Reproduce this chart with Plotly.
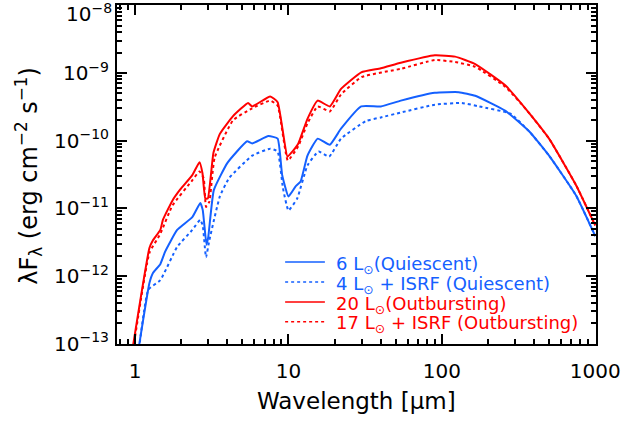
import plotly.graph_objects as go

# ---- data ----
wl_red = [0.95, 1.24, 1.31, 1.46, 1.52, 1.75, 1.97, 2.36, 2.63, 2.75, 2.87, 2.98, 3.24, 3.57, 4.35,
          5.45, 5.8, 7.6, 8.5, 9.85, 10.6, 11.6, 13.3, 15.5, 18.6, 22, 29.8, 40, 54, 90, 122,
          165, 260, 352, 500, 750, 1000]
f_red = [7e-14, 2.6e-12, 3.4e-12, 4.8e-12, 6.8e-12, 1.3e-11, 1.9e-11, 3.1e-11, 4.8e-11, 3.3e-11,
         1.4e-11, 1.4e-11, 6.6e-11, 1.26e-10, 2.3e-10, 3.6e-10, 3.2e-10, 4.5e-10, 3.7e-10, 5.8e-11,
         6.9e-11, 9.1e-11, 2.1e-10, 3.9e-10, 3.2e-10, 5.8e-10, 1.02e-9, 1.17e-9, 1.41e-9, 1.82e-9,
         1.74e-9, 1.35e-9, 6.5e-10, 2.95e-10, 1.07e-10, 2.2e-11, 5.6e-12]

wl_red_isrf = [0.96, 1.24, 1.46, 1.75, 2.36, 2.63, 2.8, 2.9, 3.05, 3.3, 4.35, 5.8, 7.6, 8.5, 9.9,
               11.6, 13.3, 15.5, 18.6, 22, 30, 54, 90, 122, 165, 260, 352, 500, 750, 1000]
f_red_isrf = [7e-14, 2.2e-12, 4.2e-12, 1.1e-11, 2.6e-11, 3.5e-11, 2.8e-11, 1.05e-11, 1.26e-11,
              5.6e-11, 2.0e-10, 3.0e-10, 3.9e-10, 3.3e-10, 5.1e-11, 8.3e-11, 1.8e-10, 3.2e-10,
              2.7e-10, 4.8e-10, 8.7e-10, 1.15e-9, 1.55e-9, 1.45e-9, 1.23e-9, 6.2e-10, 2.95e-10,
              1.07e-10, 2.2e-11, 5.6e-12]

wl_blue = [1.04, 1.24, 1.31, 1.46, 1.57, 1.88, 2.36, 2.66, 2.76, 2.92, 3.0, 3.26, 4.0, 5.37, 5.8,
           7.4, 8.5, 9.1, 10.0, 11.1, 12.0, 13.3, 15.5, 18.6, 22, 29.8, 40, 54, 90, 129, 165,
           260, 373, 500, 750, 1000]
f_blue = [7e-14, 7.9e-13, 1.12e-12, 1.5e-12, 2.3e-12, 4.8e-12, 7.4e-12, 1.2e-11, 9.5e-12, 2.9e-12,
          3.8e-12, 1.86e-11, 4.7e-11, 9.8e-11, 9.1e-11, 1.17e-10, 1.07e-10, 3.1e-11, 1.5e-11,
          2.1e-11, 2.5e-11, 6.0e-11, 1.07e-10, 8.7e-11, 1.5e-10, 3.2e-10, 3.2e-10, 3.9e-10,
          5.1e-10, 5.2e-10, 4.6e-10, 2.75e-10, 1.35e-10, 6.0e-11, 1.55e-11, 3.9e-12]

wl_blue_isrf = [1.05, 1.22, 1.46, 1.88, 2.36, 2.66, 2.76, 2.9, 3.05, 3.57, 4.1, 5.8, 7.6, 8.5, 9.2,
                10.0, 11.4, 13.3, 15.7, 18.4, 22, 32, 40, 54, 90, 135, 175, 280, 373, 500, 750, 1000]
f_blue_isrf = [7e-14, 6.3e-13, 8.7e-13, 2.7e-12, 4.8e-12, 6.8e-12, 5.6e-12, 1.9e-12, 3.4e-12,
               1.5e-11, 2.8e-11, 6.0e-11, 7.6e-11, 6.9e-11, 2.0e-11, 9.3e-12, 1.4e-11, 4.3e-11,
               6.9e-11, 5.8e-11, 1.07e-10, 1.95e-10, 2.2e-10, 2.6e-10, 3.4e-10, 3.6e-10, 3.2e-10,
               2.5e-10, 1.35e-10, 6.0e-11, 1.55e-11, 3.9e-12]

x_tickvals = [1, 10, 100, 1000]
x_ticktext = ["1", "10", "100", "1000"]
y_tickvals = [1e-13, 1e-12, 1e-11, 1e-10, 1e-9, 1e-8]
y_ticktext = ["10<sup>\u221213</sup>", "10<sup>\u221212</sup>", "10<sup>\u221211</sup>",
              "10<sup>\u221210</sup>", "10<sup>\u22129</sup>", "10<sup>\u22128</sup>"]

legend_names = ["6 L<sub>\u2299</sub>(Quiescent)",
                "4 L<sub>\u2299</sub> + ISRF (Quiescent)",
                "20 L<sub>\u2299</sub>(Outbursting)",
                "17 L<sub>\u2299</sub> + ISRF (Outbursting)"]

x_title = "Wavelength [\u03bcm]"
y_title = "\u03bbF<sub>\u03bb</sub> (erg cm<sup>\u22122</sup> s<sup>\u22121</sup>)"

BLUE = "#1460ff"
RED = "#ff0000"
FONT = "DejaVu Sans"

series = [
    (wl_blue, f_blue, BLUE, "solid"),
    (wl_blue_isrf, f_blue_isrf, BLUE, "dot"),
    (wl_red, f_red, RED, "solid"),
    (wl_red_isrf, f_red_isrf, RED, "dot"),
]

fig = go.Figure()
for (wl, f, col, dash), name in zip(series, legend_names):
    fig.add_trace(go.Scatter(
        x=wl, y=f, mode="lines", name=name, showlegend=False,
        line=dict(color=col, width=2, dash=dash, shape="spline", smoothing=0.4),
    ))

# hand-made legend (line samples + coloured labels), placed in paper coordinates
leg_rows_y = [0.242, 0.183, 0.124, 0.066]
for (wl, f, col, dash), name, ly in zip(series, legend_names, leg_rows_y):
    fig.add_shape(type="line", xref="paper", yref="paper", x0=0.351, x1=0.434, y0=ly, y1=ly,
                  line=dict(color=col, width=1.5, dash=dash))
    fig.add_annotation(xref="paper", yref="paper", x=0.452, y=ly - 0.008, xanchor="left",
                       yanchor="middle", text=name, showarrow=False,
                       font=dict(family=FONT, size=18, color=col))

# axis titles
fig.add_annotation(xref="paper", yref="paper", x=0.5, y=-0.168, xanchor="center",
                   yanchor="middle", text=x_title, showarrow=False,
                   font=dict(family=FONT, size=23, color="black"))
fig.add_annotation(xref="paper", yref="paper", x=-0.184, y=0.496, xanchor="center",
                   yanchor="middle", text=y_title, showarrow=False, textangle=-90,
                   font=dict(family=FONT, size=24, color="black"))

# the top y label sits just inside the page (as in the reference)
fig.add_annotation(xref="paper", yref="paper", x=-0.006, y=0.976, xanchor="right",
                   yanchor="middle", text=y_ticktext[-1], showarrow=False,
                   font=dict(family=FONT, size=20, color="black"))
y_ticktext_axis = y_ticktext[:-1] + [" "]

minor_x = [m * 10 ** d for d in range(-1, 3) for m in range(2, 10)]
minor_y = [m * 10.0 ** d for d in range(-14, -8) for m in range(2, 10)]

fig.update_layout(
    width=625, height=421,
    margin=dict(l=117, r=29, t=5, b=77),
    paper_bgcolor="white", plot_bgcolor="white",
    font=dict(family=FONT, size=20, color="black"),
    showlegend=False,
    xaxis=dict(
        type="log", range=[-0.118, 3.005], automargin=False,
        tickmode="array", tickvals=x_tickvals, ticktext=x_ticktext,
        ticks="inside", ticklen=10, tickwidth=1.5, tickcolor="black",
        showline=True, linecolor="black", linewidth=2, mirror="ticks",
        showgrid=False, zeroline=False, ticklabeloverflow="allow",
        ticklabelstandoff=8,
        minor=dict(tickmode="array", tickvals=minor_x, ticks="inside", ticklen=5,
                   tickwidth=1.5, tickcolor="black", showgrid=False),
    ),
    yaxis=dict(
        type="log", range=[-13.003, -7.997], automargin=False,
        tickmode="array", tickvals=y_tickvals, ticktext=y_ticktext_axis,
        ticks="inside", ticklen=10, tickwidth=1.5, tickcolor="black",
        showline=True, linecolor="black", linewidth=2, mirror="ticks",
        showgrid=False, zeroline=False, ticklabeloverflow="allow",
        ticklabelstandoff=2,
        minor=dict(tickmode="array", tickvals=minor_y, ticks="inside", ticklen=5,
                   tickwidth=1.5, tickcolor="black", showgrid=False),
    ),
)

fig.write_html("out.html", config={"displayModeBar": False},
               post_script="document.body.style.margin='0px';")
